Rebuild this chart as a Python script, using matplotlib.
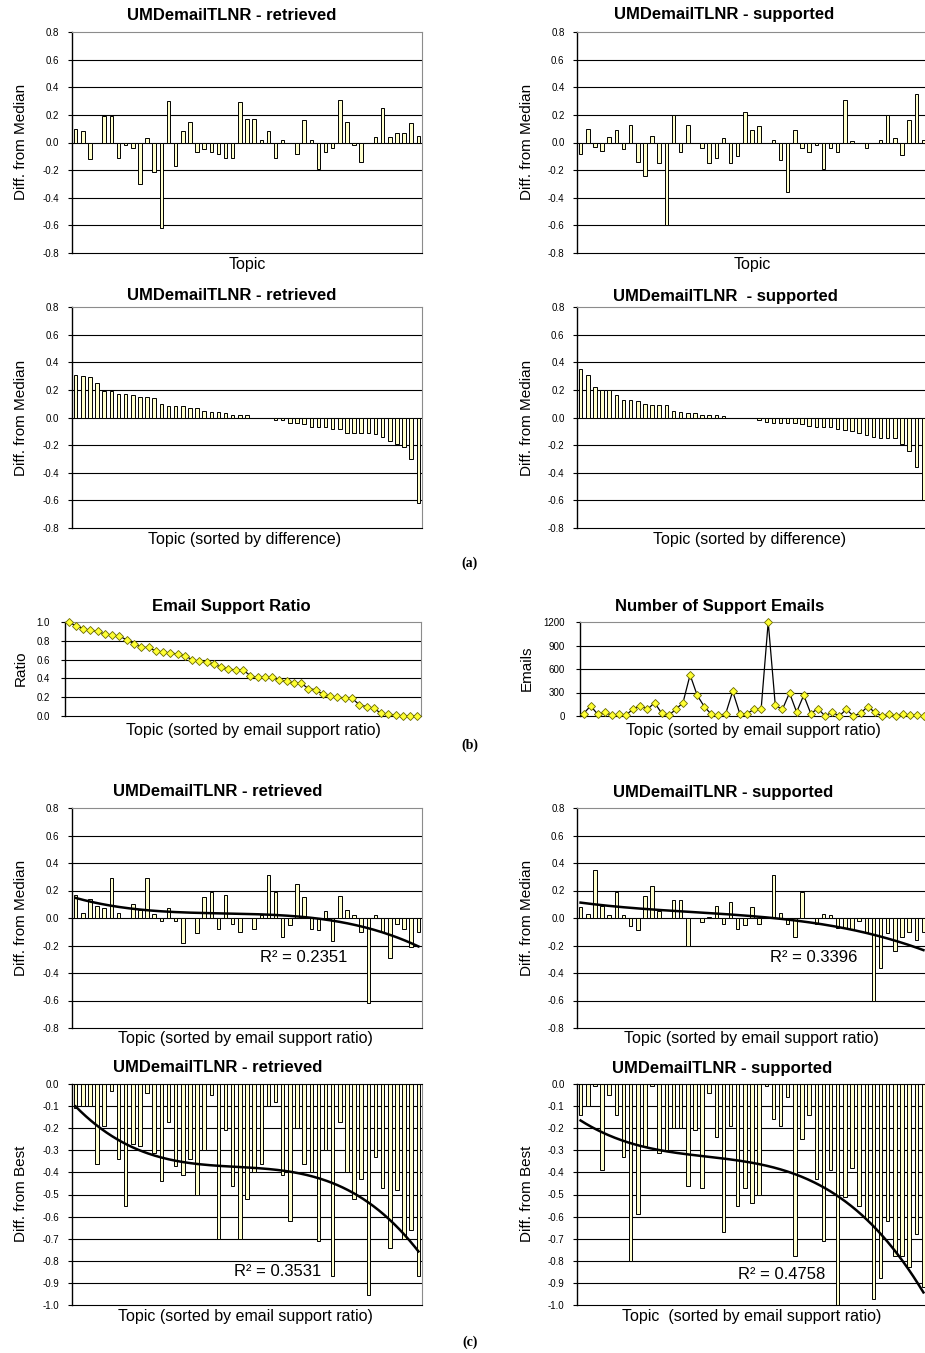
import numpy as np
import matplotlib
matplotlib.use('Agg')
import matplotlib.pyplot as plt

plt.rcParams['font.family'] = ['Liberation Sans', 'DejaVu Sans']

W, H = 925, 1353
topics = np.arange(49)

# (a) difference from median, topics in original order
ret_median = [0.10, 0.08, -0.12, 0.0, 0.19, 0.19, -0.11, -0.02, -0.04, -0.30,
              0.03, -0.21, -0.62, 0.30, -0.17, 0.08, 0.15, -0.07, -0.05, -0.07,
              -0.08, -0.11, -0.11, 0.29, 0.17, 0.17, 0.02, 0.08, -0.11, 0.02,
              0.0, -0.08, 0.16, 0.02, -0.19, -0.07, -0.04, 0.31, 0.15, -0.02,
              -0.14, 0.0, 0.04, 0.25, 0.04, 0.07, 0.07, 0.14, 0.05]
sup_median = [-0.08, 0.10, -0.03, -0.06, 0.04, 0.09, -0.05, 0.13, -0.14, -0.24,
              0.05, -0.15, -0.60, 0.20, -0.07, 0.13, 0.0, -0.04, -0.15, -0.11,
              0.03, -0.15, -0.10, 0.22, 0.09, 0.12, 0.0, 0.02, -0.13, -0.36,
              0.09, -0.04, -0.07, -0.02, -0.19, -0.04, -0.07, 0.31, 0.01, 0.0,
              -0.04, 0.0, 0.02, 0.20, 0.03, -0.09, 0.16, 0.35, 0.02]

# (b) email support, topics sorted by support ratio
support_ratio = [1.00, 0.96, 0.93, 0.91, 0.90, 0.87, 0.86, 0.85, 0.81, 0.77,
                 0.73, 0.73, 0.69, 0.68, 0.67, 0.66, 0.64, 0.60, 0.58, 0.57,
                 0.55, 0.52, 0.50, 0.49, 0.49, 0.43, 0.41, 0.41, 0.41, 0.38,
                 0.37, 0.35, 0.35, 0.29, 0.28, 0.23, 0.21, 0.20, 0.19, 0.19,
                 0.12, 0.10, 0.08, 0.03, 0.02, 0.01, 0.00, 0.00, 0.00]
support_emails = [30, 130, 20, 45, 10, 20, 10, 95, 130, 85,
                  170, 35, 10, 85, 170, 525, 265, 120, 20, 10,
                  25, 315, 30, 30, 85, 85, 1200, 135, 85, 295,
                  50, 265, 30, 95, 0, 50, 0, 85, 0, 35,
                  120, 50, 0, 20, 0, 20, 10, 10, 0]

# (c) topics sorted by email support ratio
ret_median_by_ratio = [0.17, 0.04, 0.14, 0.09, 0.07, 0.29, 0.04, 0.0, 0.10, 0.06,
                       0.29, 0.03, -0.02, 0.07, -0.02, -0.18, 0.0, -0.11, 0.15, 0.19,
                       -0.08, 0.17, -0.04, -0.10, 0.0, -0.08, 0.02, 0.31, 0.19, -0.14,
                       -0.05, 0.25, 0.15, -0.08, -0.09, 0.05, -0.17, 0.16, 0.06, 0.02,
                       -0.10, -0.62, 0.02, -0.10, -0.29, -0.04, -0.08, -0.21, -0.10]
sup_median_by_ratio = [0.08, 0.03, 0.35, 0.09, 0.02, 0.19, 0.02, -0.06, -0.09, 0.16,
                       0.23, 0.05, 0.0, 0.13, 0.13, -0.20, 0.0, -0.03, 0.01, 0.09,
                       -0.04, 0.12, -0.08, -0.05, 0.08, -0.04, 0.0, 0.31, 0.04, -0.04,
                       -0.14, 0.19, 0.0, -0.04, 0.03, 0.02, -0.07, -0.07, -0.08, -0.02,
                       -0.11, -0.60, -0.36, -0.11, -0.24, -0.14, -0.10, -0.16, -0.10]
ret_best_by_ratio = [-0.11, -0.10, -0.10, -0.36, -0.19, -0.03, -0.34, -0.55, -0.27, -0.28,
                     -0.04, -0.31, -0.44, -0.17, -0.37, -0.41, -0.34, -0.50, -0.30, -0.05,
                     -0.70, -0.21, -0.46, -0.70, -0.52, -0.40, -0.36, -0.10, -0.08, -0.41,
                     -0.62, -0.20, -0.36, -0.40, -0.71, -0.30, -0.87, -0.17, -0.40, -0.52,
                     -0.43, -0.955, -0.33, -0.47, -0.74, -0.48, -0.70, -0.66, -0.87]
sup_best_by_ratio = [-0.14, -0.10, -0.01, -0.39, -0.05, -0.14, -0.33, -0.80, -0.59, -0.28,
                     -0.01, -0.31, -0.30, -0.20, -0.20, -0.46, -0.21, -0.47, -0.04, -0.24,
                     -0.67, -0.19, -0.55, -0.47, -0.54, -0.50, -0.01, -0.16, -0.19, -0.06,
                     -0.78, -0.25, -0.14, -0.43, -0.71, -0.39, -1.00, -0.51, -0.38, -0.55,
                     -0.61, -0.975, -0.88, -0.62, -0.78, -0.78, -0.83, -0.68, -0.92]
r2_labels = ['R\u00b2 = 0.2351', 'R\u00b2 = 0.3396', 'R\u00b2 = 0.3531', 'R\u00b2 = 0.4758']

fig = plt.figure(figsize=(W / 100, H / 100), dpi=100)
BAR_FILL = '#FFFFCC'
GREY = '#8c8c8c'
TITLE_FS = 12
XLAB_FS = 11.5
YLAB_FS = 11
TICK_FS = 7


def add_panel(left, top, right, bottom):
    return fig.add_axes([left / W, 1 - bottom / H, (right - left) / W, (bottom - top) / H])


def fig_text(x, y, s, **kw):
    fig.text(x / W, 1 - y / H, s, ha='center', va='center', **kw)


def frame(ax, lo, hi, step, fmt, axis_at_top=False, pad=6):
    ticks = np.round(np.arange(lo, hi + step / 2, step), 4)
    ax.set_ylim(lo, hi)
    ax.set_xlim(-0.5, 48.5)
    ax.set_yticks(ticks)
    ax.set_yticklabels([fmt.format(0.0 if t == 0 else t) for t in ticks])
    ax.set_xticks([])
    ax.tick_params(axis='y', direction='out', length=3, width=0.8, pad=pad,
                   labelsize=TICK_FS)
    for t in ticks[1:-1]:
        ax.axhline(t, color='black', lw=0.8, zorder=1)
    ax.spines['left'].set_color('black')
    ax.spines['left'].set_linewidth(1.0)
    ax.spines['bottom'].set_color('black')
    ax.spines['bottom'].set_linewidth(0.8)
    ax.spines['top'].set_color('black' if axis_at_top else GREY)
    ax.spines['top'].set_linewidth(0.8)
    ax.spines['right'].set_color(GREY)
    ax.spines['right'].set_linewidth(0.8)


def bar_panel(ax, vals, lo, hi, step, trend=None):
    frame(ax, lo, hi, step, '{:.1f}', axis_at_top=(hi == 0))
    ax.bar(topics, vals, width=0.5, color=BAR_FILL, edgecolor='black',
           linewidth=0.7, zorder=2)
    if trend is not None:
        # cubic trend line like the spreadsheet's polynomial fit
        coef = np.polyfit(topics, vals, 3)
        xs = np.linspace(0, 48, 200)
        ax.plot(xs, np.polyval(coef, xs), color='black', lw=1.8, zorder=3)
        ax.text(trend[0], trend[1], trend[2], fontsize=12, ha='center',
                va='center', zorder=4)


LX, RX = 72, 577
PW = 350

# ---- (a) ----
for col, x0 in enumerate([LX, RX]):
    ax = add_panel(x0, 32, x0 + PW, 253)
    bar_panel(ax, [ret_median, sup_median][col], -0.8, 0.8, 0.2)
    ax = add_panel(x0, 307, x0 + PW, 528)
    bar_panel(ax, np.sort([ret_median, sup_median][col])[::-1], -0.8, 0.8, 0.2)

fig_text(232, 15, 'UMDemailTLNR - retrieved', fontsize=TITLE_FS, fontweight='bold')
fig_text(724, 15, 'UMDemailTLNR - supported', fontsize=TITLE_FS, fontweight='bold')
fig_text(232, 296, 'UMDemailTLNR - retrieved', fontsize=TITLE_FS, fontweight='bold')
fig_text(725, 296, 'UMDemailTLNR  - supported', fontsize=TITLE_FS, fontweight='bold')
fig_text(247, 264, 'Topic', fontsize=XLAB_FS)
fig_text(752, 264, 'Topic', fontsize=XLAB_FS)
fig_text(245, 539, 'Topic (sorted by difference)', fontsize=XLAB_FS)
fig_text(750, 539, 'Topic (sorted by difference)', fontsize=XLAB_FS)
for y in (142, 418):
    fig_text(21, y, 'Diff. from Median', fontsize=YLAB_FS, rotation=90)
    fig_text(527, y, 'Diff. from Median', fontsize=YLAB_FS, rotation=90)
fig_text(470, 563, '(a)', fontsize=10, fontweight='bold', family='Liberation Serif')

# ---- (b) ----
ax = add_panel(65, 622, 421, 716)
frame(ax, 0, 1.0, 0.2, '{:.1f}', pad=8)
ax.plot(topics, support_ratio, color='black', lw=0.9, marker='D', ms=4,
        mfc='#FFFF33', mec='#6b6b00', mew=0.6, zorder=3, clip_on=False)
ax = add_panel(580, 622, 928, 716)
frame(ax, 0, 1200, 300, '{:.0f}', pad=8)
ax.plot(topics, support_emails, color='black', lw=0.9, marker='D', ms=4,
        mfc='#FFFF33', mec='#6b6b00', mew=0.6, zorder=3, clip_on=False)
fig_text(231, 607, 'Email Support Ratio', fontsize=TITLE_FS, fontweight='bold')
fig_text(720, 607, 'Number of Support Emails', fontsize=TITLE_FS, fontweight='bold')
fig_text(253, 731, 'Topic (sorted by email support ratio)', fontsize=XLAB_FS)
fig_text(753, 731, 'Topic (sorted by email support ratio)', fontsize=XLAB_FS)
fig_text(21, 668, 'Ratio', fontsize=YLAB_FS, rotation=90)
fig_text(527, 668, 'Emails', fontsize=YLAB_FS, rotation=90)
fig_text(470, 745, '(b)', fontsize=10, fontweight='bold', family='Liberation Serif')

# ---- (c) ----
ax = add_panel(LX, 808, LX + PW, 1028)
bar_panel(ax, ret_median_by_ratio, -0.8, 0.8, 0.2, trend=(32.0, -0.29, r2_labels[0]))
ax = add_panel(RX, 808, RX + PW, 1028)
bar_panel(ax, sup_median_by_ratio, -0.8, 0.8, 0.2, trend=(32.7, -0.29, r2_labels[1]))
ax = add_panel(LX, 1084, LX + PW, 1305)
bar_panel(ax, ret_best_by_ratio, -1.0, 0.0, 0.1, trend=(28.3, -0.85, r2_labels[2]))
ax = add_panel(RX, 1084, RX + PW, 1305)
bar_panel(ax, sup_best_by_ratio, -1.0, 0.0, 0.1, trend=(28.2, -0.86, r2_labels[3]))

fig_text(218, 792, 'UMDemailTLNR - retrieved', fontsize=TITLE_FS, fontweight='bold')
fig_text(723, 792, 'UMDemailTLNR - supported', fontsize=TITLE_FS, fontweight='bold')
fig_text(218, 1068, 'UMDemailTLNR - retrieved', fontsize=TITLE_FS, fontweight='bold')
fig_text(722, 1068, 'UMDemailTLNR - supported', fontsize=TITLE_FS, fontweight='bold')
fig_text(245, 1039, 'Topic (sorted by email support ratio)', fontsize=XLAB_FS)
fig_text(751, 1039, 'Topic (sorted by email support ratio)', fontsize=XLAB_FS)
fig_text(245, 1316, 'Topic (sorted by email support ratio)', fontsize=XLAB_FS)
fig_text(752, 1316, 'Topic  (sorted by email support ratio)', fontsize=XLAB_FS)
fig_text(21, 918, 'Diff. from Median', fontsize=YLAB_FS, rotation=90)
fig_text(527, 918, 'Diff. from Median', fontsize=YLAB_FS, rotation=90)
fig_text(21, 1194, 'Diff. from Best', fontsize=YLAB_FS, rotation=90)
fig_text(527, 1194, 'Diff. from Best', fontsize=YLAB_FS, rotation=90)
fig_text(470, 1342, '(c)', fontsize=10, fontweight='bold', family='Liberation Serif')

fig.savefig('out.png', dpi=100, facecolor='white')
